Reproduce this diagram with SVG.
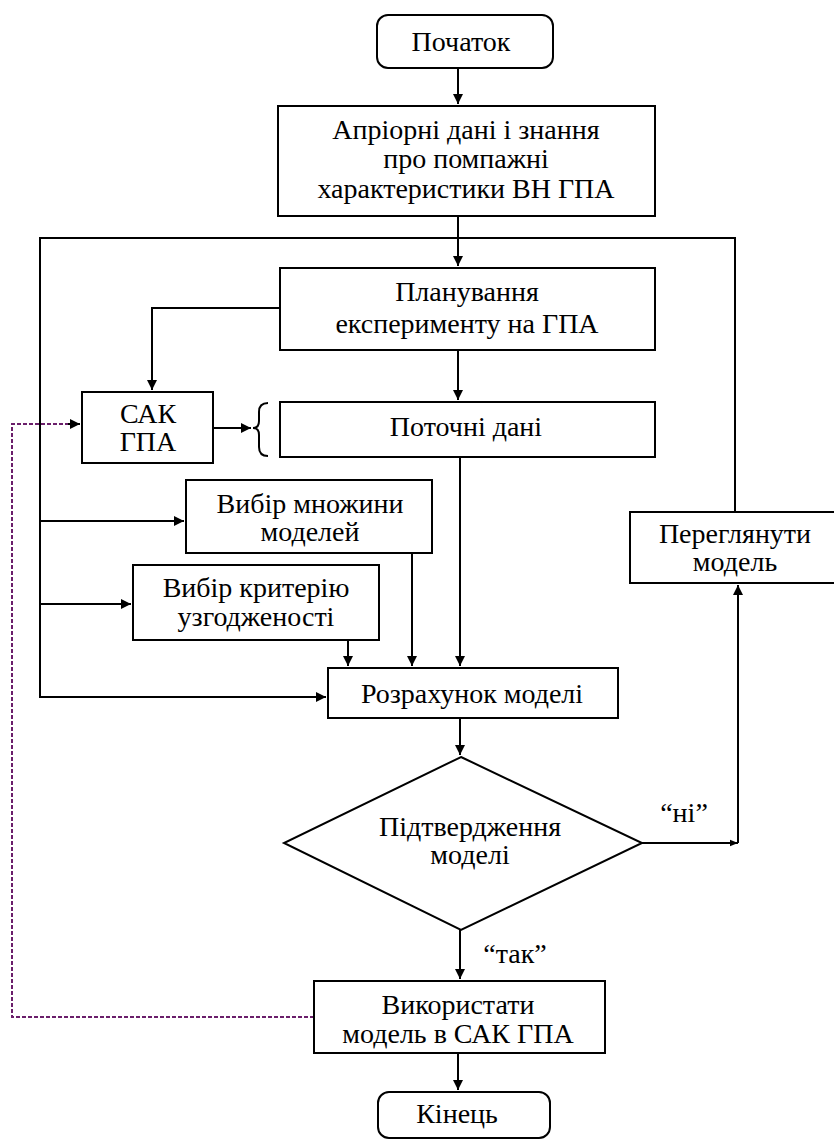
<svg xmlns="http://www.w3.org/2000/svg" width="834" height="1140" viewBox="0 0 834 1140">
<defs>
<marker id="arr" viewBox="0 0 10 10" refX="10" refY="5" markerWidth="10" markerHeight="10" markerUnits="userSpaceOnUse" orient="auto">
<path d="M0,0 L10,5 L0,10 z" fill="#000"/>
</marker>
<marker id="arrs" viewBox="0 0 10 10" refX="10" refY="5" markerWidth="8" markerHeight="8" markerUnits="userSpaceOnUse" orient="auto">
<path d="M0,1 L10,5 L0,9 z" fill="#000"/>
</marker>
</defs>
<rect width="834" height="1140" fill="#fff"/>
<g id="connectors" fill="none" stroke="#000" stroke-width="2">
<path d="M458,68 V104" marker-end="url(#arr)"/>
<path d="M458,216 V266" marker-end="url(#arr)"/>
<path d="M735,512 V238 H40 V697 H326" marker-end="url(#arr)"/>
<path d="M40,521 H184" marker-end="url(#arr)"/>
<path d="M40,604 H131" marker-end="url(#arr)"/>
<path d="M280,308 H152 V390" marker-end="url(#arr)"/>
<path d="M458,350 V400" marker-end="url(#arr)"/>
<path d="M213,428 H251" marker-end="url(#arr)"/>
<path d="M268,403 Q259,403 259,412 V421 Q259,428 253,428 Q259,428 259,435 V447 Q259,456 268,456"/>
<path d="M460,457 V666" marker-end="url(#arr)"/>
<path d="M412,553 V666" marker-end="url(#arr)"/>
<path d="M348,640 V666" marker-end="url(#arr)"/>
<path d="M460,718 V755" marker-end="url(#arr)"/>
<path d="M642,843 H738" marker-end="url(#arrs)"/>
<path d="M738,843 V585" marker-end="url(#arr)"/>
<path d="M460,930 V979" marker-end="url(#arr)"/>
<path d="M458,1053 V1090" marker-end="url(#arr)"/>
<path d="M314,1017 H12 V424 H70" stroke="#6b1f6b" stroke-dasharray="4 2"/>
<path d="M68,424 H80" marker-end="url(#arr)"/>
</g>
<g id="label-no">
<text x="684" y="822" font-family="Times New Roman" font-size="28" text-anchor="middle">“ні”</text>
</g>
<g id="label-yes">
<text x="515" y="963" font-family="Times New Roman" font-size="28" text-anchor="middle">“так”</text>
</g>
<g id="start">
<rect x="377" y="15" width="176" height="53" rx="11" fill="#fff" stroke="#000" stroke-width="2"/>
<text x="461" y="51" font-family="Times New Roman" font-size="28" text-anchor="middle">Початок</text>
</g>
<g id="prior">
<rect x="278" y="106" width="377" height="110" fill="#fff" stroke="#000" stroke-width="2"/>
<text x="466" y="139" font-family="Times New Roman" font-size="28" text-anchor="middle">Апріорні дані і знання</text>
<text x="466" y="168" font-family="Times New Roman" font-size="28" text-anchor="middle">про помпажні</text>
<text x="466" y="198" font-family="Times New Roman" font-size="28" text-anchor="middle">характеристики ВН ГПА</text>
</g>
<g id="planning">
<rect x="280" y="268" width="375" height="82" fill="#fff" stroke="#000" stroke-width="2"/>
<text x="467" y="301" font-family="Times New Roman" font-size="28" text-anchor="middle">Планування</text>
<text x="467" y="333" font-family="Times New Roman" font-size="28" text-anchor="middle">експерименту на ГПА</text>
</g>
<g id="sak">
<rect x="82" y="392" width="131" height="71" fill="#fff" stroke="#000" stroke-width="2"/>
<text x="148" y="423" font-family="Times New Roman" font-size="28" text-anchor="middle">САК</text>
<text x="148" y="451" font-family="Times New Roman" font-size="28" text-anchor="middle">ГПА</text>
</g>
<g id="current">
<rect x="280" y="402" width="375" height="55" fill="#fff" stroke="#000" stroke-width="2"/>
<text x="466" y="436" font-family="Times New Roman" font-size="28" text-anchor="middle">Поточні дані</text>
</g>
<g id="models">
<rect x="186" y="480" width="246" height="73" fill="#fff" stroke="#000" stroke-width="2"/>
<text x="310" y="513" font-family="Times New Roman" font-size="28" text-anchor="middle">Вибір множини</text>
<text x="310" y="541" font-family="Times New Roman" font-size="28" text-anchor="middle">моделей</text>
</g>
<g id="criterion">
<rect x="133" y="565" width="246" height="75" fill="#fff" stroke="#000" stroke-width="2"/>
<text x="256" y="597" font-family="Times New Roman" font-size="28" text-anchor="middle">Вибір критерію</text>
<text x="256" y="626" font-family="Times New Roman" font-size="28" text-anchor="middle">узгодженості</text>
</g>
<g id="calc">
<rect x="328" y="668" width="290" height="50" fill="#fff" stroke="#000" stroke-width="2"/>
<text x="472" y="703" font-family="Times New Roman" font-size="28" text-anchor="middle">Розрахунок моделі</text>
</g>
<g id="review">
<rect x="630" y="512" width="215" height="71" fill="#fff" stroke="#000" stroke-width="2"/>
<text x="735" y="543" font-family="Times New Roman" font-size="28" text-anchor="middle">Переглянути</text>
<text x="735" y="571" font-family="Times New Roman" font-size="28" text-anchor="middle">модель</text>
</g>
<g id="decision">
<polygon points="461,757 642,843 461,930 284,843" fill="#fff" stroke="#000" stroke-width="2"/>
<text x="470" y="836" font-family="Times New Roman" font-size="28" text-anchor="middle">Підтвердження</text>
<text x="470" y="864" font-family="Times New Roman" font-size="28" text-anchor="middle">моделі</text>
</g>
<g id="use">
<rect x="314" y="981" width="291" height="72" fill="#fff" stroke="#000" stroke-width="2"/>
<text x="458" y="1014" font-family="Times New Roman" font-size="28" text-anchor="middle">Використати</text>
<text x="458" y="1043" font-family="Times New Roman" font-size="28" text-anchor="middle">модель в САК ГПА</text>
</g>
<g id="end">
<rect x="378" y="1092" width="172" height="46" rx="11" fill="#fff" stroke="#000" stroke-width="2"/>
<text x="457" y="1123" font-family="Times New Roman" font-size="28" text-anchor="middle">Кінець</text>
</g>
</svg>
